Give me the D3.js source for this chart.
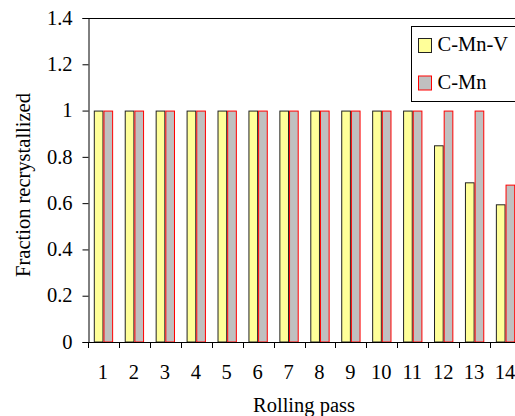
<!DOCTYPE html>
<html>
<head>
<meta charset="utf-8">
<script src="https://cdn.jsdelivr.net/npm/d3@7"></script>
<style>
  body { margin: 0; background: #fff; }
</style>
</head>
<body>
<div id="chart"></div>
<script>
var passes = ['1','2','3','4','5','6','7','8','9','10','11','12','13','14'];
var seriesNames = ['C-Mn-V', 'C-Mn'];
var cmnv = [1, 1, 1, 1, 1, 1, 1, 1, 1, 1, 1, 0.85, 0.69, 0.595];
var cmn = [1, 1, 1, 1, 1, 1, 1, 1, 1, 1, 1, 1, 1, 0.68];
var yTicks = [0, 0.2, 0.4, 0.6, 0.8, 1, 1.2, 1.4];

var width = 515, height = 416;
var plotL = 88, plotT = 18, plotR = 521, plotB = 342;
var serif = 'Liberation Serif';
var fs = 20.5;

var fills = ['#ffff99', '#c0c0c0'];
var strokes = ['#222222', '#ff0000'];

var svg = d3.select('#chart')
    .append('svg')
    .attr('width', width)
    .attr('height', height);

var x0 = d3.scaleBand().domain(passes).range([plotL, plotR]).padding(0);
var x1 = d3.scaleBand().domain(seriesNames).range([0, x0.bandwidth()])
    .paddingInner(0).paddingOuter(0.6);
var y = d3.scaleLinear().domain([0, 1.4]).range([plotB, plotT]);

// bars
var rows = passes.map((p, i) => ({ pass: p, vals: [cmnv[i], cmn[i]] }));
var groups = svg.append('g').selectAll('g').data(rows).enter()
    .append('g')
    .attr('transform', d => `translate(${x0(d.pass)},0)`);

groups.selectAll('rect')
    .data(d => d.vals.map((v, k) => ({ name: seriesNames[k], v: v, k: k })))
    .enter()
    .append('rect')
    .attr('x', d => x1(d.name) + 0.5)
    .attr('y', d => y(d.v) + 0.5)
    .attr('width', x1.bandwidth() - 1)
    .attr('height', d => plotB - y(d.v) - 0.5)
    .attr('fill', d => fills[d.k])
    .attr('stroke', d => strokes[d.k])
    .attr('stroke-width', 1);

// top border of the plot
svg.append('line')
    .attr('x1', plotL).attr('x2', plotR)
    .attr('y1', plotT + 0.5).attr('y2', plotT + 0.5)
    .attr('stroke', '#000').attr('stroke-width', 1);

// y axis
var yAxis = svg.append('g')
    .attr('transform', `translate(${plotL + 0.5},0)`)
    .call(d3.axisLeft(y).tickValues(yTicks).tickSize(6).tickPadding(10)
        .tickFormat(d => String(+d.toFixed(1))));
yAxis.attr('font-family', serif).attr('font-size', fs);
yAxis.selectAll('text')
    .attr('dy', '0.3em')
    .attr('fill', '#000');
yAxis.select('.domain').attr('stroke', '#000');

// x axis: ticks at band boundaries, labels at centres
var xg = svg.append('g')
    .attr('font-family', serif)
    .attr('font-size', fs);
xg.append('line')
    .attr('x1', plotL).attr('x2', plotR)
    .attr('y1', plotB + 0.5).attr('y2', plotB + 0.5)
    .attr('stroke', '#000');
xg.selectAll('line.tk').data(passes).enter()
    .append('line')
    .attr('class', 'tk')
    .attr('x1', d => Math.round(x0(d)) + 0.5)
    .attr('x2', d => Math.round(x0(d)) + 0.5)
    .attr('y1', plotB).attr('y2', plotB + 6)
    .attr('stroke', '#000');
xg.selectAll('text').data(passes).enter()
    .append('text')
    .attr('x', d => x0(d) + x0.bandwidth() / 2 - 0.5)
    .attr('y', 379)
    .attr('text-anchor', 'middle')
    .text(d => d);

// axis titles
svg.append('text')
    .attr('x', 304)
    .attr('y', 411.5)
    .attr('text-anchor', 'middle')
    .attr('font-family', serif)
    .attr('font-size', fs)
    .text('Rolling pass');

svg.append('text')
    .attr('transform', 'translate(30,185)rotate(-90)')
    .attr('text-anchor', 'middle')
    .attr('font-family', serif)
    .attr('font-size', fs)
    .text('Fraction recrystallized');

// legend
var legend = svg.append('g')
    .attr('transform', 'translate(411,26)')
    .attr('font-family', serif)
    .attr('font-size', fs);
legend.append('rect')
    .attr('x', 0.5).attr('y', 0.5)
    .attr('width', 130).attr('height', 75)
    .attr('fill', '#fff')
    .attr('stroke', '#000');
seriesNames.forEach((n, k) => {
    legend.append('rect')
        .attr('x', 7.5).attr('y', 12.5 + k * 37.5)
        .attr('width', 13).attr('height', 14)
        .attr('fill', fills[k])
        .attr('stroke', strokes[k]);
    legend.append('text')
        .attr('x', 26.5).attr('y', 25 + k * 37.5)
        .text(n);
});
</script>
</body>
</html>
